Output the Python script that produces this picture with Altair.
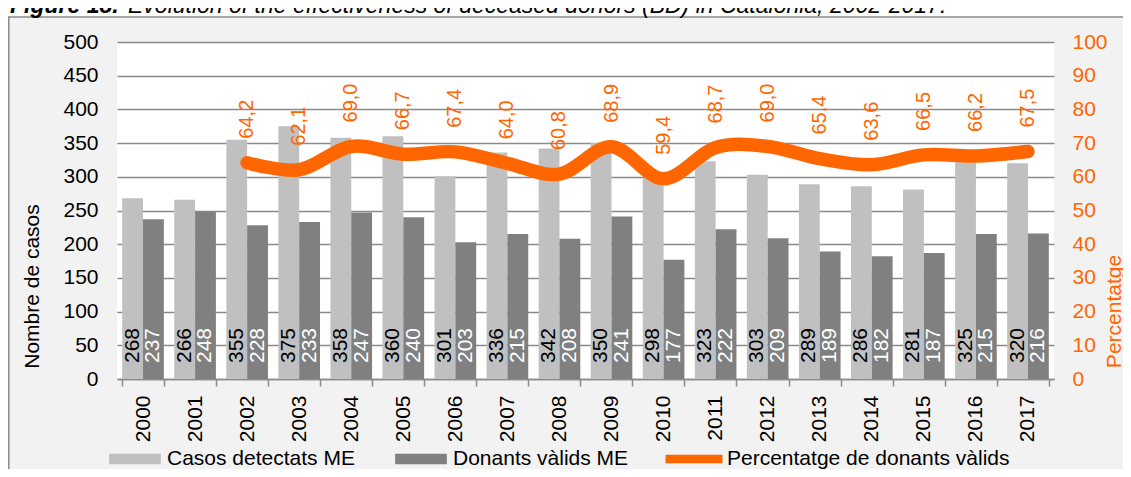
import altair as alt
import pandas as pd

# ---------------- data ----------------
years = [str(y) for y in range(2000, 2018)]
casos_detectats = [268, 266, 355, 375, 358, 360, 301, 336, 342, 350, 298, 323, 303, 289, 286, 281, 325, 320]
donants_valids = [237, 248, 228, 233, 247, 240, 203, 215, 208, 241, 177, 222, 209, 189, 182, 187, 215, 216]
pct_years = years[2:]
pct_valids = [64.2, 62.1, 69.0, 66.7, 67.4, 64.0, 60.8, 68.9, 59.4, 68.7, 69.0, 65.4, 63.6, 66.5, 66.2, 67.5]

SER_A = "Casos detectats ME"
SER_B = "Donants vàlids ME"
SER_C = "Percentatge de donants vàlids"
title_bold = "Figure 18."
title_rest = "Evolution of the effectiveness of deceased donors (BD) in Catalonia, 2002-2017."

bars_df = pd.DataFrame({
    "any": years * 2,
    "serie": [SER_A] * len(years) + [SER_B] * len(years),
    "valor": casos_detectats + donants_valids,
})
pct_df = pd.DataFrame({
    "any": pct_years,
    "pct": pct_valids,
    "serie": [SER_C] * len(pct_years),
    "etiqueta": [f"{v:.1f}".replace(".", ",") for v in pct_valids],
})
one_row = pd.DataFrame({"k": [0]})

FONT = "Liberation Sans"
ORANGE = "#ff6600"
LIGHT = "#c0c0c0"
DARK = "#808080"
GRID = "#8a8a8a"
PANEL = "#f2f2f2"

# ---------------- shared encodings ----------------
x_enc = alt.X(
    "any:N", title=None,
    scale=alt.Scale(domain=years, paddingInner=0.2, paddingOuter=0.1),
    axis=alt.Axis(labelAngle=270, labelFontSize=21, labelFont=FONT, labelColor="black",
                  labelPadding=9, tickBand="extent", tickSize=7, tickColor=GRID,
                  tickWidth=1.5, domainColor=GRID, domainWidth=1.5, grid=False),
)
xoff_enc = alt.XOffset("serie:N", sort=[SER_A, SER_B])

left_axis = alt.Axis(
    title="Nombre de casos", values=list(range(0, 501, 50)),
    labelFontSize=21, labelFont=FONT, labelColor="black", labelPadding=19,
    ticks=False, domain=False, grid=True, gridColor=GRID, gridWidth=1.6,
    titleFontSize=21, titleFont=FONT, titleFontWeight="normal", titleColor="black",
    titleAngle=270, titleBaseline="middle", titleAlign="center", titleX=-85, titleY=244,
)
left_scale = alt.Scale(domain=[0, 500])

bars = alt.Chart(bars_df).mark_bar().encode(
    x=x_enc,
    xOffset=xoff_enc,
    y=alt.Y("valor:Q", scale=left_scale, axis=left_axis),
    color=alt.Color(
        "serie:N",
        scale=alt.Scale(domain=[SER_A, SER_B], range=[LIGHT, DARK]),
        legend=alt.Legend(
            title=None, orient="none", legendX=-8, legendY=391, direction="horizontal",
            symbolType="M-1,-0.2H1V0.2H-1Z", symbolSize=2673, symbolStrokeWidth=0,
            labelFontSize=21, labelFont=FONT, labelColor="black", labelOffset=6,
            labelLimit=400, columnPadding=40, padding=0,
        ),
    ),
)

bar_labels = alt.Chart(bars_df).transform_calculate(zero="0").mark_text(
    angle=270, align="left", baseline="middle", dx=16, fontSize=21, font=FONT
).encode(
    x=x_enc,
    xOffset=xoff_enc,
    y=alt.Y("zero:Q", scale=left_scale, axis=left_axis),
    text=alt.Text("valor:Q"),
    color=alt.condition(alt.datum.serie == SER_A, alt.value("black"), alt.value("white")),
)

left_layer = alt.layer(bars, bar_labels)

right_axis = alt.Axis(
    orient="right", title="Percentatge", values=list(range(0, 101, 10)),
    labelFontSize=21, labelFont=FONT, labelColor=ORANGE, labelPadding=18,
    ticks=False, domain=False, grid=False,
    titleFontSize=21, titleFont=FONT, titleFontWeight="normal", titleColor=ORANGE,
    titleAngle=270, titleBaseline="middle", titleAlign="center", titleX=60, titleY=269,
)
right_scale = alt.Scale(domain=[0, 100])

line = alt.Chart(pct_df).mark_line(
    interpolate="cardinal", strokeWidth=13.5, strokeCap="round", strokeJoin="round"
).encode(
    x=x_enc,
    y=alt.Y("pct:Q", scale=right_scale, axis=right_axis),
    stroke=alt.Stroke(
        "serie:N",
        scale=alt.Scale(domain=[SER_C], range=[ORANGE]),
        legend=alt.Legend(
            title=None, orient="none", legendX=544, legendY=384, direction="horizontal",
            symbolType="stroke", symbolSize=3249, symbolStrokeWidth=8.5,
            labelFontSize=21, labelFont=FONT, labelColor="black", labelOffset=0,
            labelLimit=400, padding=0,
        ),
    ),
)

pct_labels = alt.Chart(pct_df).mark_text(
    angle=270, align="left", baseline="middle", dx=24, fontSize=20, font=FONT, color=ORANGE
).encode(
    x=x_enc,
    y=alt.Y("pct:Q", scale=right_scale, axis=right_axis),
    text="etiqueta:N",
)

right_layer = alt.layer(line, pct_labels)

# ---------------- frame decorations (panel border + cropped title) ----------------
deco_base = alt.Chart(one_row)
white_strip = deco_base.mark_rect(color="white").encode(
    x=alt.value(-109), x2=alt.value(1006), y=alt.value(-34), y2=alt.value(-25)
)
top_border = deco_base.mark_rule(color=GRID, strokeWidth=1.5).encode(
    x=alt.value(-109), x2=alt.value(1006), y=alt.value(-25)
)
left_border = deco_base.mark_rule(color=GRID, strokeWidth=1.5).encode(
    x=alt.value(-108.2), y=alt.value(-25), y2=alt.value(427)
)
title_a = deco_base.mark_text(
    align="left", baseline="alphabetic", fontSize=23, font=FONT,
    fontStyle="italic", fontWeight="bold", color="black"
).encode(x=alt.value(-107), y=alt.value(-29), text=alt.value(title_bold))
title_b = deco_base.mark_text(
    align="left", baseline="alphabetic", fontSize=23, font=FONT,
    fontStyle="italic", color="black"
).encode(x=alt.value(11), y=alt.value(-29), text=alt.value(title_rest))

deco = alt.layer(white_strip, top_border, left_border, title_a, title_b)

chart = alt.layer(deco, left_layer, right_layer).resolve_scale(
    y="independent"
).properties(
    width=937, height=337,
    autosize=alt.AutoSizeParams(type="none"),
    padding={"left": 109, "top": 34, "right": 69, "bottom": 90},
    background=PANEL,
).configure(font=FONT).configure_view(fill="white", strokeWidth=0)

chart.save("out.html", embed_options={"renderer": "svg", "actions": False})
